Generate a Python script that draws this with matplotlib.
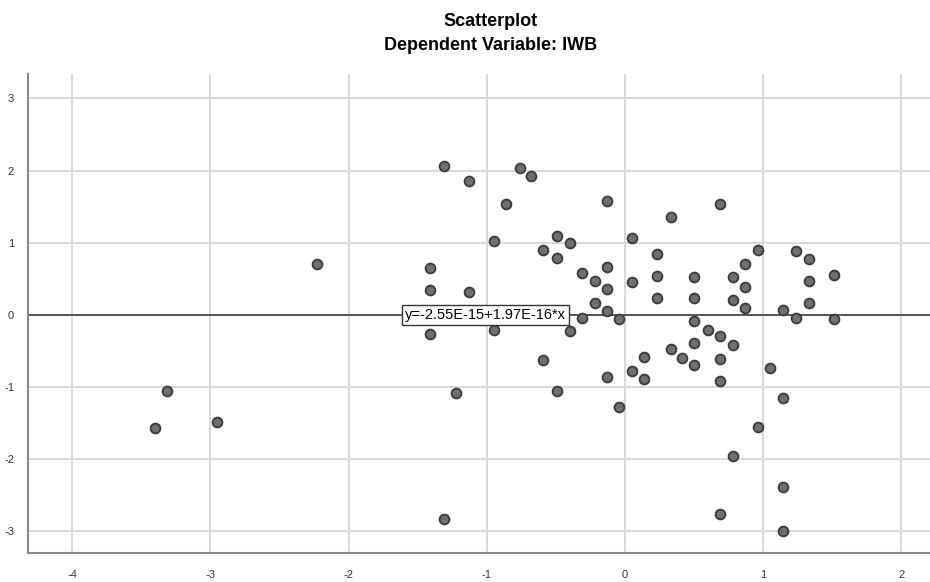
import numpy as np
import matplotlib
matplotlib.use("Agg")
import matplotlib.pyplot as plt

plt.rcParams['font.family'] = ['Liberation Sans', 'DejaVu Sans']
plt.rcParams['axes.unicode_minus'] = False

# standardized predicted value vs standardized residual
pred = [-3.40, -3.31, -2.95, -2.23,
        -1.41, -1.41, -1.41, -1.31, -1.31, -1.22, -1.13, -1.13,
        -0.95, -0.95, -0.86, -0.76, -0.68, -0.59, -0.59,
        -0.49, -0.49, -0.49, -0.40, -0.40, -0.31, -0.31, -0.22, -0.22,
        -0.13, -0.13, -0.13, -0.13, -0.13, -0.04, -0.04,
        0.05, 0.05, 0.05, 0.14, 0.14, 0.23, 0.23, 0.23, 0.33, 0.33, 0.41,
        0.50, 0.50, 0.50, 0.50, 0.50, 0.60,
        0.69, 0.69, 0.69, 0.69, 0.69, 0.78, 0.78, 0.78, 0.78,
        0.87, 0.87, 0.87, 0.96, 0.96, 1.05,
        1.14, 1.14, 1.14, 1.14, 1.24, 1.24, 1.33, 1.33, 1.33, 1.51, 1.51]
resid = [-1.57, -1.05, -1.48, 0.71,
         0.65, 0.34, -0.27, 2.07, -2.83, -1.09, 1.85, 0.32,
         1.03, -0.21, 1.53, 2.03, 1.93, 0.90, -0.63,
         1.09, 0.79, -1.05, 0.99, -0.23, 0.58, -0.04, 0.47, 0.16,
         1.58, 0.67, 0.36, 0.06, -0.86, -0.06, -1.28,
         1.06, 0.45, -0.78, -0.58, -0.89, 0.84, 0.54, 0.24, 1.35, -0.48, -0.60,
         0.53, 0.23, -0.09, -0.39, -0.70, -0.21,
         1.53, -0.29, -0.61, -0.92, -2.76, 0.52, 0.20, -0.42, -1.95,
         0.70, 0.39, 0.09, 0.90, -1.55, -0.74,
         0.07, -1.15, -2.38, -2.99, 0.89, -0.04, 0.78, 0.47, 0.16, 0.55, -0.06]

# fit line coefficients
intercept = -2.55e-15
slope = 1.97e-16
fit_label = "y=-2.55E-15+1.97E-16*x"

x_ticks = [-4, -3, -2, -1, 0, 1, 2]
y_ticks = [-3, -2, -1, 0, 1, 2, 3]

fig = plt.figure(figsize=(9.3, 5.82), dpi=100)
ax = fig.add_axes([0.030, 0.050, 0.970, 0.823])
ax.set_xlim(-4.32, 2.207)
ax.set_ylim(-3.30, 3.34)

ax.set_xticks(x_ticks)
ax.set_yticks(y_ticks)
ax.grid(True, color='#d8d8d8', linewidth=1.4, zorder=0)
ax.set_axisbelow(True)
ax.tick_params(length=0, labelsize=8, labelcolor='#333333')
ax.tick_params(axis='x', pad=12)
ax.tick_params(axis='y', pad=10)

for side in ['top', 'right']:
    ax.spines[side].set_visible(False)
for side in ['left', 'bottom']:
    ax.spines[side].set_color('#888888')
    ax.spines[side].set_linewidth(1.5)

xs = np.array(ax.get_xlim())
ax.plot(xs, intercept + slope * xs, color='#555555', linewidth=1.4, zorder=2)

ax.scatter(pred, resid, s=50, facecolor='#707070', edgecolor='#3a3a3a',
           linewidth=1.3, zorder=3)

ax.text(-1.01, intercept + slope * -1.01, fit_label, fontsize=10.5,
        ha='center', va='center', zorder=4,
        bbox=dict(boxstyle='square,pad=0.2', facecolor='white',
                  edgecolor='#333333', linewidth=1.0))

fig.text(0.527, 1 - 21 / 582, "Scatterplot", ha='center', va='center',
         fontsize=13, fontweight='bold')
fig.text(0.527, 1 - 45 / 582, "Dependent Variable: IWB", ha='center',
         va='center', fontsize=13, fontweight='bold')

fig.savefig("out.png", dpi=100)
